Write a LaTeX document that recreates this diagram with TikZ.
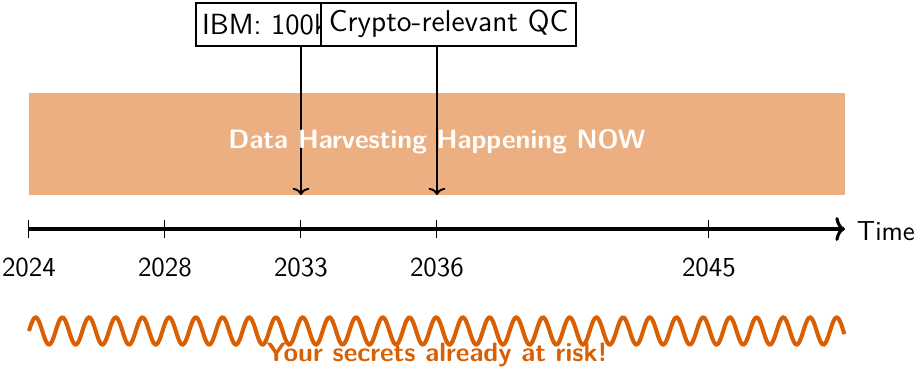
\documentclass[tikz,border=0pt]{standalone}
\usetikzlibrary{arrows.meta}
\definecolor{harvest}{RGB}{217,95,2}
\begin{document}
\begin{tikzpicture}[x=1cm,y=1cm,font=\sffamily,
  tickmark/.style={thin},
  yearlabel/.style={font=\sffamily\fontsize{11.5}{13}\selectfont},
  eventbox/.style={draw,thick,fill=white,inner xsep=3.3pt,inner ysep=2pt,minimum height=0.63cm,
    font=\sffamily\fontsize{12.6}{14}\selectfont},
  eventarrow/.style={thick,-{To[length=3pt,width=7pt]}}]
\useasboundingbox (-0.426,-2.015) rectangle (13.06,3.368);
% harvesting band
\fill[harvest!50] (0,0.5) rectangle (12,2);
% time axis
\coordinate (t0) at (0,0);
\coordinate (t2) at (2,0);
\coordinate (t4) at (4,0);
\coordinate (t6) at (6,0);
\coordinate (t10) at (10,0);
\coordinate (tend) at (12,0);
\draw[line width=1.3pt,-{To[length=4pt,width=10pt]}] (t0) -- (tend);
\foreach \p/\yr in {t0/2024,t2/2028,t4/2033,t6/2036,t10/2045}{
  \draw[tickmark] ([yshift=-0.13cm]\p) -- ([yshift=0.13cm]\p);
  \node[yearlabel] (y\yr) at ([yshift=-0.57cm]\p) {\yr};
}
\node[anchor=west,yearlabel,inner sep=2pt] (time) at ([xshift=0.1cm,yshift=-0.03cm]tend) {Time};
% events
\node[eventbox,anchor=north west,inner xsep=2.6pt,text width=2.9cm,align=left,
  font=\sffamily\fontsize{12.2}{14}\selectfont] (ibm) at (2.44,3.34) {IBM: 100k};
\node[eventbox,anchor=north west] (qc) at (4.28,3.34) {Crypto-relevant QC};
\coordinate (a4) at (4,0.5);
\coordinate (a6) at (6,0.5);
\draw[eventarrow] (ibm.south -| a4) -- (a4);
\draw[eventarrow] (qc.south -| a6) -- (a6);
\node[text=white,font=\sffamily\bfseries\fontsize{11.1}{13}\selectfont] (band) at (6,1.29) {Data Harvesting Happening NOW};
% risk wave
\draw[harvest,line width=1.7pt,domain=0:12,samples=600,smooth]
  plot (\x,{-1.5+0.2*sin(16*\x r)});
\node[text=harvest,font=\sffamily\bfseries\fontsize{11.1}{13}\selectfont] (risk) at (6,-1.85) {Your secrets already at risk!};
\end{tikzpicture}
\end{document}
